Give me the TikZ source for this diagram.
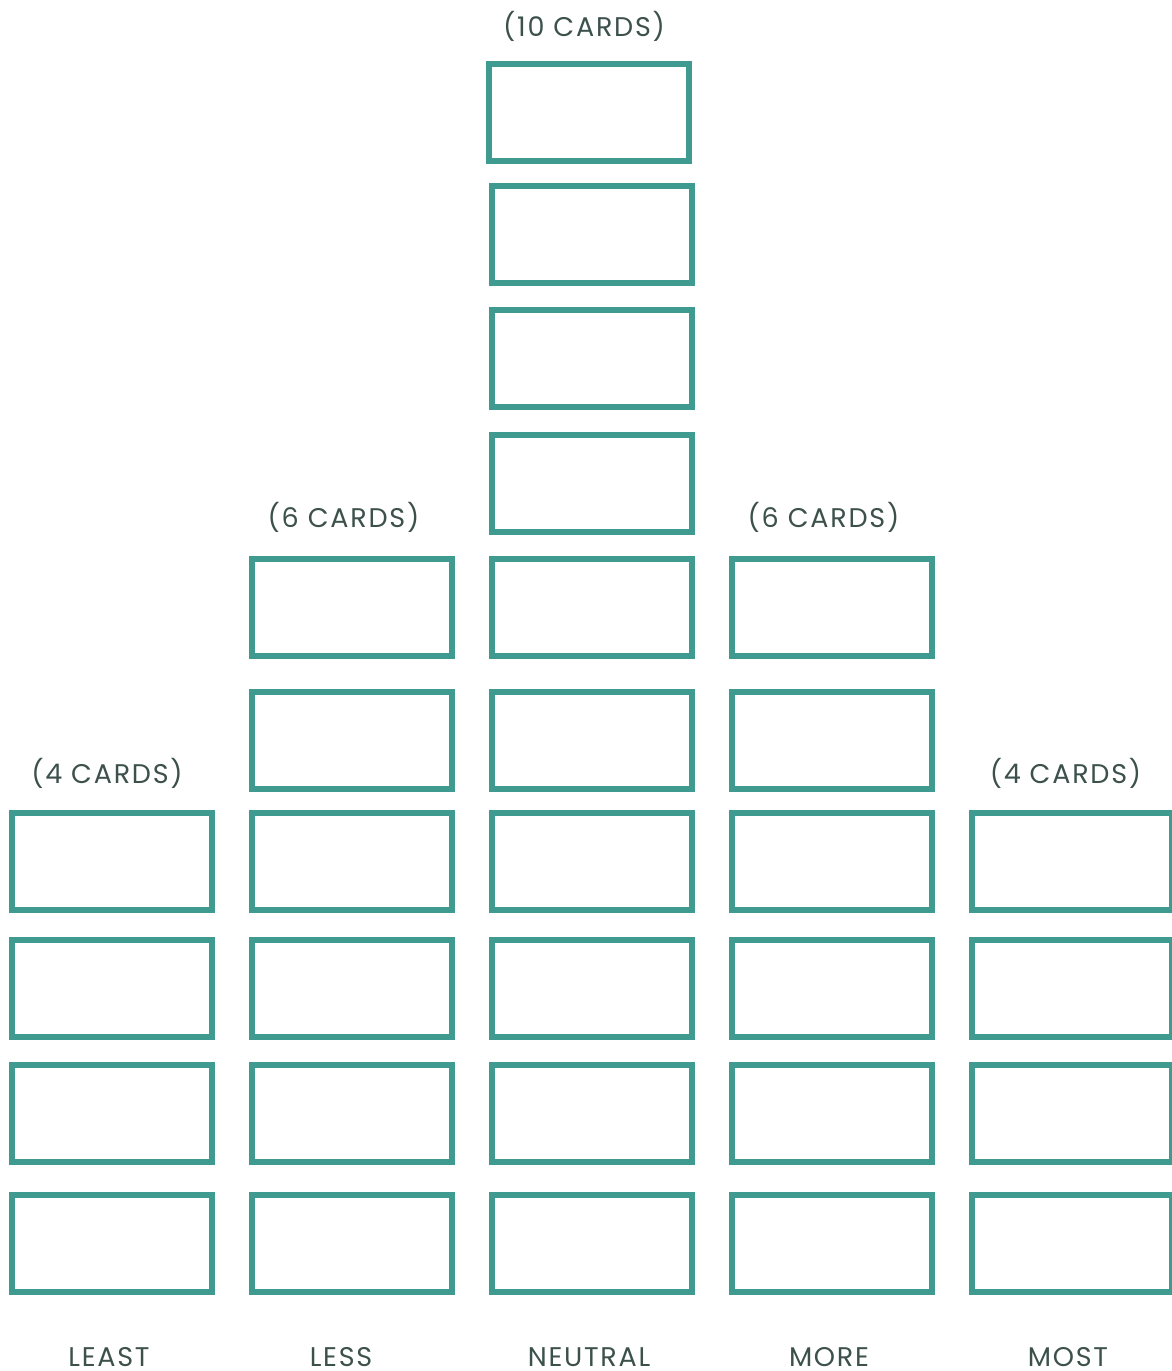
\documentclass[tikz,border=0pt]{standalone}
\usepackage{fontspec}
\setmainfont{Poppins}[LetterSpace=6.5]
\definecolor{cardteal}{HTML}{3F9A8F}
\definecolor{labelgray}{HTML}{3D514C}
\begin{document}
\begin{tikzpicture}[x=1pt,y=-1pt,
  card/.style={draw=cardteal, line width=6pt, minimum width=200pt, minimum height=97pt, inner sep=0pt, outer sep=0pt},
  lbl/.style={text=labelgray, font=\fontsize{27}{30}\selectfont, anchor=base, inner sep=0pt}]
\useasboundingbox (0,0) rectangle (1172,1371);
% neutral column (10 cards)
\node[card] (n1) at (589,112.5) {};
\foreach \r/\y in {2/234,3/358,4/483,5/607.5,6/740,7/861.5,8/988.5,9/1113,10/1243}
  \node[card] (n\r) at (592,\y) {};
% less / more columns (6 cards)
\foreach \r/\y in {5/607.5,6/740,7/861.5,8/988.5,9/1113,10/1243}{
  \node[card] (l\r) at (352,\y) {};
  \node[card] (m\r) at (832,\y) {};
}
% least / most columns (4 cards)
\foreach \r/\y in {7/861.5,8/988.5,9/1113,10/1243}{
  \node[card] (a\r) at (112,\y) {};
  \node[card] (b\r) at (1072,\y) {};
}
% counts
\node[lbl] (tn) at (584,36) {(10 CARDS)};
\node[lbl] (tl) at (343.5,527) {(6 CARDS)};
\node[lbl] (tm) at (823.5,527) {(6 CARDS)};
\node[lbl] (ta) at (107,783) {(4 CARDS)};
\node[lbl] (tb) at (1065.5,783) {(4 CARDS)};
% bottom labels
\node[lbl] (la) at (109,1366) {LEAST};
\node[lbl] (ll) at (341,1366) {LESS};
\node[lbl] (ln) at (589,1366) {NEUTRAL};
\node[lbl] (lm) at (829,1366) {MORE};
\node[lbl] (lb) at (1068,1366) {MOST};
\end{tikzpicture}
\end{document}
